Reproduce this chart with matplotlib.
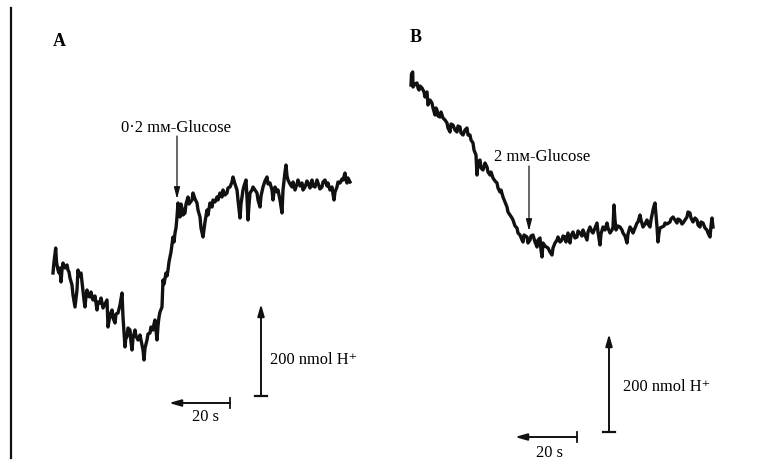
import matplotlib.pyplot as plt

# trace A (page pixels, y grows downward)
trace_a_x = [53, 54, 55.7, 56.5, 57, 58, 59, 60, 61, 62, 63, 65, 67, 68, 69, 70, 72, 73, 75, 76,
             77, 78, 79, 81, 82, 83, 84, 85, 86, 87, 88, 90, 91, 93, 95, 97, 98, 100, 101, 103,
             105, 107, 108, 110, 112, 113, 115, 116, 118, 120, 122, 123, 124, 125, 126, 127,
             128, 130, 131, 132, 133, 135, 136, 138, 140, 142, 143, 144, 145, 147, 148, 150,
             151, 153, 154, 155, 156, 157, 158, 159, 160, 162, 163, 164, 166, 167, 168, 169,
             170, 171, 173, 174, 175, 176, 177, 178, 179, 180, 181, 182, 183, 185, 186, 188,
             189, 192, 193, 195, 197, 198, 200, 201, 203, 205, 207, 208, 210, 212, 213, 215,
             217, 218, 220, 222, 223, 225, 227, 228, 230, 232, 233, 235, 237, 238, 240, 241,
             243, 244, 246, 247, 248, 249, 250, 252, 253, 255, 257, 258, 260, 261, 263, 265,
             267, 268, 270, 272, 273, 274, 275, 277, 278, 280, 282, 283, 285, 286, 287, 288,
             290, 292, 293, 295, 297, 298, 300, 302, 303, 305, 307, 308, 310, 312, 313, 315,
             317, 318, 320, 322, 323, 325, 327, 328, 330, 332, 333, 334, 335, 337, 338, 340,
             342, 343, 345, 346, 347, 348, 350]
trace_a_y = [273, 262, 248, 262, 265, 270, 273, 268, 282, 270, 263, 268, 265, 270, 272, 278,
             285, 295, 307, 298, 290, 270, 276, 273, 282, 290, 300, 307, 296, 290, 296, 297,
             292, 300, 296, 310, 302, 303, 298, 308, 304, 300, 327, 315, 310, 318, 323, 314,
             313, 305, 293, 317, 332, 347, 336, 337, 328, 330, 342, 350, 338, 330, 336, 340,
             335, 345, 350, 360, 348, 340, 334, 333, 327, 330, 324, 320, 330, 340, 326, 317,
             312, 307, 280, 284, 273, 276, 270, 262, 257, 252, 237, 242, 233, 228, 217, 203,
             212, 217, 204, 208, 215, 213, 204, 197, 204, 200, 193, 199, 203, 210, 217, 228,
             237, 222, 210, 215, 203, 207, 200, 202, 197, 200, 193, 197, 190, 195, 193, 188,
             187, 182, 177, 184, 190, 200, 218, 204, 190, 186, 180, 198, 220, 205, 193, 190,
             187, 190, 193, 200, 207, 196, 187, 181, 177, 184, 183, 190, 200, 192, 187, 192,
             190, 200, 213, 190, 172, 165, 176, 180, 184, 187, 182, 190, 184, 180, 186, 183,
             190, 187, 181, 183, 188, 180, 186, 187, 180, 183, 189, 187, 182, 180, 186, 183,
             190, 187, 194, 200, 192, 187, 182, 183, 179, 180, 173, 180, 183, 178, 182]

# trace B
trace_b_x = [411, 411.5, 412.7, 413, 415, 417, 418, 419, 420, 422, 424, 425, 426, 427, 428,
             430, 432, 433, 435, 436, 437, 438, 440, 441, 443, 445, 447, 448, 450, 451, 453,
             455, 457, 458, 460, 461, 463, 465, 467, 468, 470, 471, 473, 474, 476, 477, 478,
             480, 481, 483, 485, 487, 488, 490, 491, 493, 495, 497, 498, 500, 501, 503, 505,
             507, 508, 510, 512, 513, 515, 517, 518, 520, 522, 523, 524, 527, 528, 530, 531,
             533, 535, 537, 538, 540, 541, 542, 543, 545, 548, 550, 552, 553, 555, 557, 558,
             560, 562, 563, 565, 566, 568, 570, 571, 573, 575, 577, 578, 580, 582, 583, 585,
             587, 588, 590, 592, 593, 595, 597, 598, 600, 601, 603, 605, 607, 608, 610, 612,
             613, 614, 615, 616, 618, 620, 622, 623, 625, 627, 628, 630, 632, 633, 635, 637,
             638, 640, 641, 643, 645, 647, 648, 650, 651, 653, 654, 655, 656, 657, 658, 659,
             660, 662, 664, 665, 667, 670, 671, 673, 675, 677, 678, 680, 682, 683, 685, 687,
             688, 690, 691, 693, 695, 697, 698, 700, 701, 703, 705, 707, 708, 710, 711, 712,
             713]
trace_b_y = [85, 74, 72, 87, 84, 83, 88, 90, 86, 88, 92, 97, 93, 92, 105, 100, 103, 108, 115,
             108, 110, 116, 117, 112, 118, 120, 123, 128, 132, 124, 125, 130, 132, 126, 127,
             133, 135, 130, 128, 135, 135, 140, 143, 150, 155, 175, 162, 160, 168, 170, 163,
             167, 172, 175, 172, 178, 181, 183, 188, 192, 190, 197, 202, 207, 212, 215, 218,
             220, 226, 228, 233, 235, 240, 242, 235, 237, 243, 240, 236, 235, 242, 247, 240,
             238, 250, 257, 243, 246, 248, 252, 255, 248, 243, 240, 237, 242, 240, 236, 237,
             242, 233, 243, 236, 232, 238, 237, 231, 233, 236, 230, 235, 240, 232, 227, 232,
             233, 228, 223, 232, 245, 234, 227, 230, 223, 228, 233, 230, 227, 205, 220, 230,
             226, 227, 230, 233, 236, 243, 234, 227, 230, 233, 228, 223, 222, 215, 220, 227,
             224, 220, 224, 227, 220, 210, 206, 203, 215, 227, 242, 233, 228, 227, 226, 223,
             224, 222, 219, 217, 220, 223, 219, 220, 224, 223, 220, 217, 212, 213, 218, 222,
             218, 220, 225, 227, 222, 223, 228, 230, 233, 237, 226, 218, 227]

serif = ['Liberation Serif', 'DejaVu Serif']
ink = '#111111'

fig = plt.figure(figsize=(7.81, 4.62), dpi=100)
ax = fig.add_axes([0, 0, 1, 1])
ax.set_xlim(0, 781)
ax.set_ylim(462, 0)
ax.axis('off')

# left border rule
ax.plot([11, 11], [8, 458], color=ink, lw=1.6)

ax.plot(trace_a_x, trace_a_y, color=ink, lw=2.4, solid_joinstyle='round')
ax.plot(trace_b_x, trace_b_y, color=ink, lw=2.4, solid_joinstyle='round')

ax.text(53, 42, 'A', family=serif, fontsize=13, fontweight='bold', va='center', ha='left')
ax.text(410, 37, 'B', family=serif, fontsize=13, fontweight='bold', va='center', ha='left')

thin = dict(arrowstyle='-|>,head_length=0.7,head_width=0.18', color=ink, lw=0.9,
            shrinkA=0, shrinkB=0)
ax.annotate('', xy=(177, 199), xytext=(177, 136), arrowprops=thin)
ax.text(176, 128, '0·2 mм-Glucose', family=serif, fontsize=12, ha='center', va='center')
ax.annotate('', xy=(529, 231), xytext=(529, 166), arrowprops=thin)
ax.text(542, 157, '2 mм-Glucose', family=serif, fontsize=12, ha='center', va='center')

bar = dict(arrowstyle='-|>,head_length=0.7,head_width=0.2', color=ink, lw=1.4,
           shrinkA=0, shrinkB=0)

# scale bars A
ax.annotate('', xy=(261, 304), xytext=(261, 396), arrowprops=bar)
ax.plot([255, 267], [396, 396], color=ink, lw=1.6)
ax.text(270, 360, '200 nmol H⁺', family=serif, fontsize=11.8, ha='left', va='center')
ax.annotate('', xy=(169, 403), xytext=(230, 403), arrowprops=bar)
ax.plot([230, 230], [398, 408], color=ink, lw=1.3)
ax.text(205, 417, '20 s', family=serif, fontsize=11.8, ha='center', va='center')

# scale bars B
ax.annotate('', xy=(609, 334), xytext=(609, 432), arrowprops=bar)
ax.plot([603, 615], [432, 432], color=ink, lw=1.6)
ax.text(623, 387, '200 nmol H⁺', family=serif, fontsize=11.8, ha='left', va='center')
ax.annotate('', xy=(515, 437), xytext=(577, 437), arrowprops=bar)
ax.plot([577, 577], [432, 442], color=ink, lw=1.3)
ax.text(550, 453, '20 s', family=serif, fontsize=11.8, ha='center', va='center')

fig.savefig('out.png', dpi=100)
